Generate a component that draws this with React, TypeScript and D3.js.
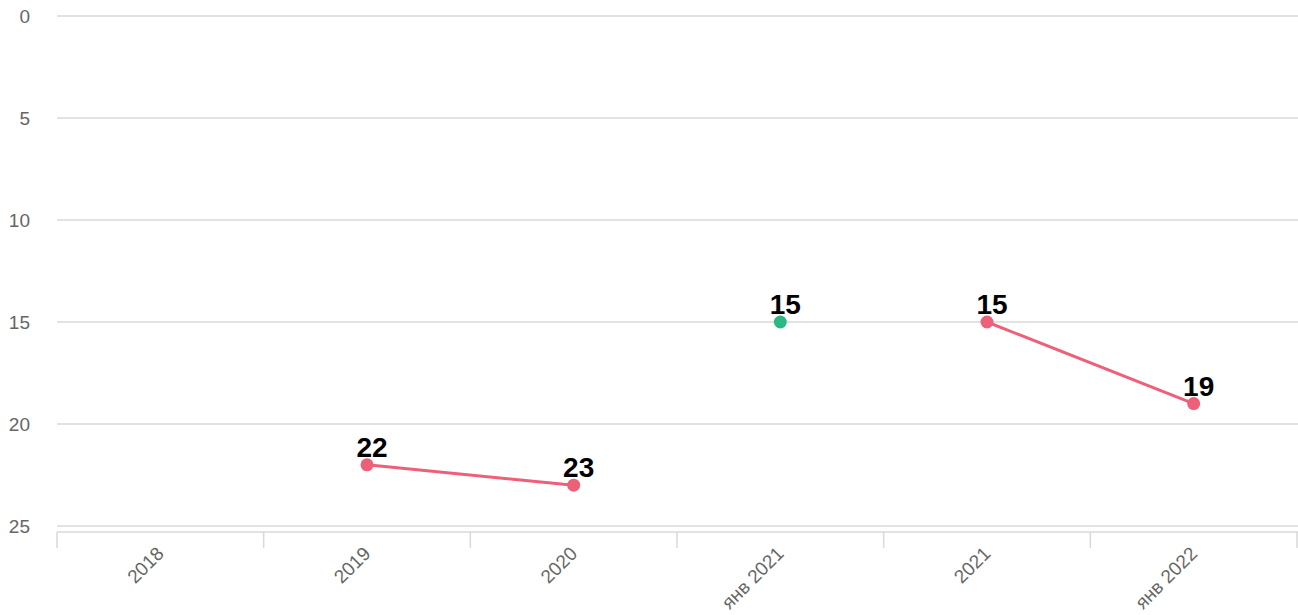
import React, { useEffect, useRef } from "react";
import * as d3 from "d3";

const categories = ["2018", "2019", "2020", "янв 2021", "2021", "янв 2022"];
const redValues: (number | null)[] = [null, 22, 23, null, 15, 19];
const greenValues: (number | null)[] = [null, null, null, 15, null, null];
const yTicks = [0, 5, 10, 15, 20, 25];

const W = 1298;
const H = 615;

function App() {
  const ref: React.MutableRefObject<SVGSVGElement | null> = useRef(null);

  useEffect(() => {
    const svg = d3.select(ref.current);
    svg.selectAll("*").remove();

    const x = d3.scaleBand<string>().domain(categories).range([57, 1297]);
    const y = d3.scaleLinear().domain([0, 25]).range([16, 526]);

    // grid + y labels
    const grid = svg.append("g");
    grid
      .selectAll("line")
      .data(yTicks)
      .enter()
      .append("line")
      .attr("x1", 57)
      .attr("x2", W)
      .attr("y1", d => y(d))
      .attr("y2", d => y(d))
      .attr("stroke", "#d9d9d9")
      .attr("stroke-width", 1.5);
    grid
      .selectAll("text")
      .data(yTicks)
      .enter()
      .append("text")
      .attr("x", 30)
      .attr("y", d => y(d))
      .attr("dy", "0.35em")
      .attr("text-anchor", "end")
      .attr("fill", "#666")
      .style("font-family", "Liberation Sans, Arial, sans-serif")
      .style("font-size", "19px")
      .text(d => d);

    // x axis
    const axisY = 532;
    const xa = svg.append("g");
    xa.append("line")
      .attr("x1", 57)
      .attr("x2", W)
      .attr("y1", axisY)
      .attr("y2", axisY)
      .attr("stroke", "#d9d9d9")
      .attr("stroke-width", 1.5);
    const tickXs = categories.map(c => x(c) as number).concat([x.range()[1]]);
    xa.selectAll("line.tick")
      .data(tickXs)
      .enter()
      .append("line")
      .attr("class", "tick")
      .attr("x1", d => d)
      .attr("x2", d => d)
      .attr("y1", axisY)
      .attr("y2", axisY + 16)
      .attr("stroke", "#d9d9d9")
      .attr("stroke-width", 1.5);
    xa.selectAll("text")
      .data(categories)
      .enter()
      .append("text")
      .attr("transform", d => `translate(${(x(d) as number) + x.bandwidth() / 2},${axisY + 18}) rotate(-45)`)
      .attr("text-anchor", "end")
      .attr("dy", "0.35em")
      .attr("fill", "#666")
      .style("font-family", "Liberation Sans, Arial, sans-serif")
      .style("font-size", "19px")
      .text(d => d);

    const cx = (i: number) => (x(categories[i]) as number) + x.bandwidth() / 2;

    function drawSeries(values: (number | null)[], color: string) {
      const g = svg.append("g");
      const line = d3
        .line<number | null>()
        .defined(d => d !== null)
        .x((_, i) => cx(i))
        .y(d => y(d as number));
      g.append("path")
        .attr("d", line(values))
        .attr("fill", "none")
        .attr("stroke", color)
        .attr("stroke-width", 3);
      const pts = values.map((v, i) => ({ v, i })).filter(p => p.v !== null);
      g.selectAll("circle")
        .data(pts)
        .enter()
        .append("circle")
        .attr("cx", p => cx(p.i))
        .attr("cy", p => y(p.v as number))
        .attr("r", 6.5)
        .attr("fill", color);
      g.selectAll("text")
        .data(pts)
        .enter()
        .append("text")
        .attr("x", p => cx(p.i) + 5)
        .attr("y", p => y(p.v as number) - 8)
        .attr("text-anchor", "middle")
        .attr("fill", "#000")
        .style("font-family", "Liberation Sans, Arial, sans-serif")
        .style("font-size", "28px")
        .style("font-weight", "bold")
        .text(p => p.v as number);
    }

    drawSeries(redValues, "#ee5f78");
    drawSeries(greenValues, "#2ab985");
  }, []);

  return <svg ref={ref} width={W} height={H} style={{ position: "absolute", left: 0, top: 0 }} />;
}

export default App;
